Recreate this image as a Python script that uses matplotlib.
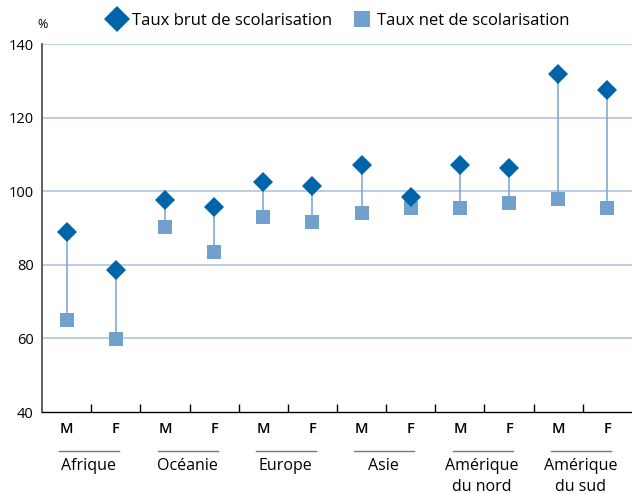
import numpy as np
import matplotlib.pyplot as plt
from matplotlib.lines import Line2D
from matplotlib.transforms import blended_transform_factory

plt.rcParams['font.family'] = ['Open Sans', 'DejaVu Sans']

regions = ["Afrique", "Océanie", "Europe", "Asie", "Amérique\ndu nord", "Amérique\ndu sud"]
sexes = ["M", "F"]
brut = [88.9, 78.6, 97.6, 95.7, 102.5, 101.4, 107.1, 98.4, 107.1, 106.3, 131.8, 127.5]
net = [65.0, 59.8, 90.3, 83.5, 93.0, 91.6, 94.1, 95.4, 95.4, 96.8, 97.9, 95.4]

c_brut = "#0064a8"
c_net = "#72a0cd"
c_stem = "#82aad5"
c_grid = "#aabedb"


def main():
    fig = plt.figure(figsize=(6.32, 4.94), dpi=100)
    ax = fig.add_axes([42 / 632, 82 / 494, 590 / 632, 368 / 494])

    x = np.arange(len(brut))
    ax.vlines(x, net, brut, color=c_stem, lw=1.2, zorder=2)
    ax.plot(x, net, "s", ms=10, color=c_net, mew=0, zorder=3)
    ax.plot(x, brut, "D", ms=9.8, color=c_brut, mew=0, zorder=4)

    ax.set_xlim(-0.5, len(brut) - 0.5)
    ax.set_ylim(40, 140)
    ax.set_yticks([40, 60, 80, 100, 120, 140])
    for v in [60, 80, 100, 120, 140]:
        ax.axhline(v, color=c_grid, lw=1.1, zorder=1)

    for s in ["top", "right"]:
        ax.spines[s].set_visible(False)
    ax.spines["left"].set_color("#555555")
    ax.spines["left"].set_linewidth(1.3)
    ax.spines["bottom"].set_color("black")
    ax.spines["bottom"].set_linewidth(1.0)
    ax.tick_params(axis="y", length=0, labelsize=10.5, pad=6)

    ax.set_xticks(np.arange(0.5, len(brut) - 0.5, 1.0))
    ax.set_xticklabels([])
    ax.tick_params(axis="x", direction="in", length=6, width=1, color="black")

    tr = blended_transform_factory(ax.transData, ax.transAxes)
    for i in range(len(brut)):
        ax.text(i, -0.045, sexes[i % 2], transform=tr, ha="center", va="center",
                fontsize=10.5, fontweight="semibold")
    for g, name in enumerate(regions):
        cx = 2 * g + 0.5
        ax.add_line(Line2D([cx - 0.65, cx + 0.57], [-0.106, -0.106], transform=tr,
                           color="#777777", lw=1.0, clip_on=False))
        ax.text(cx - 0.05, -0.125, name, transform=tr, ha="center", va="top",
                fontsize=11.5, linespacing=1.4)

    fig.text(43 / 632, 1 - 25 / 494, "%", fontsize=9, ha="center", va="center")

    handles = [Line2D([], [], ls="none", marker="D", ms=13, color=c_brut, mew=0),
               Line2D([], [], ls="none", marker="s", ms=11, color=c_net, mew=0)]
    fig.legend(handles, ["Taux brut de scolarisation", "Taux net de scolarisation"],
               loc="center", bbox_to_anchor=(0.535, 1 - 21 / 494), ncol=2,
               frameon=False, fontsize=12, handletextpad=0.3, columnspacing=1.2,
               handlelength=1.2, borderaxespad=0)

    fig.savefig("out.png", dpi=100)


if __name__ == '__main__':
    main()
